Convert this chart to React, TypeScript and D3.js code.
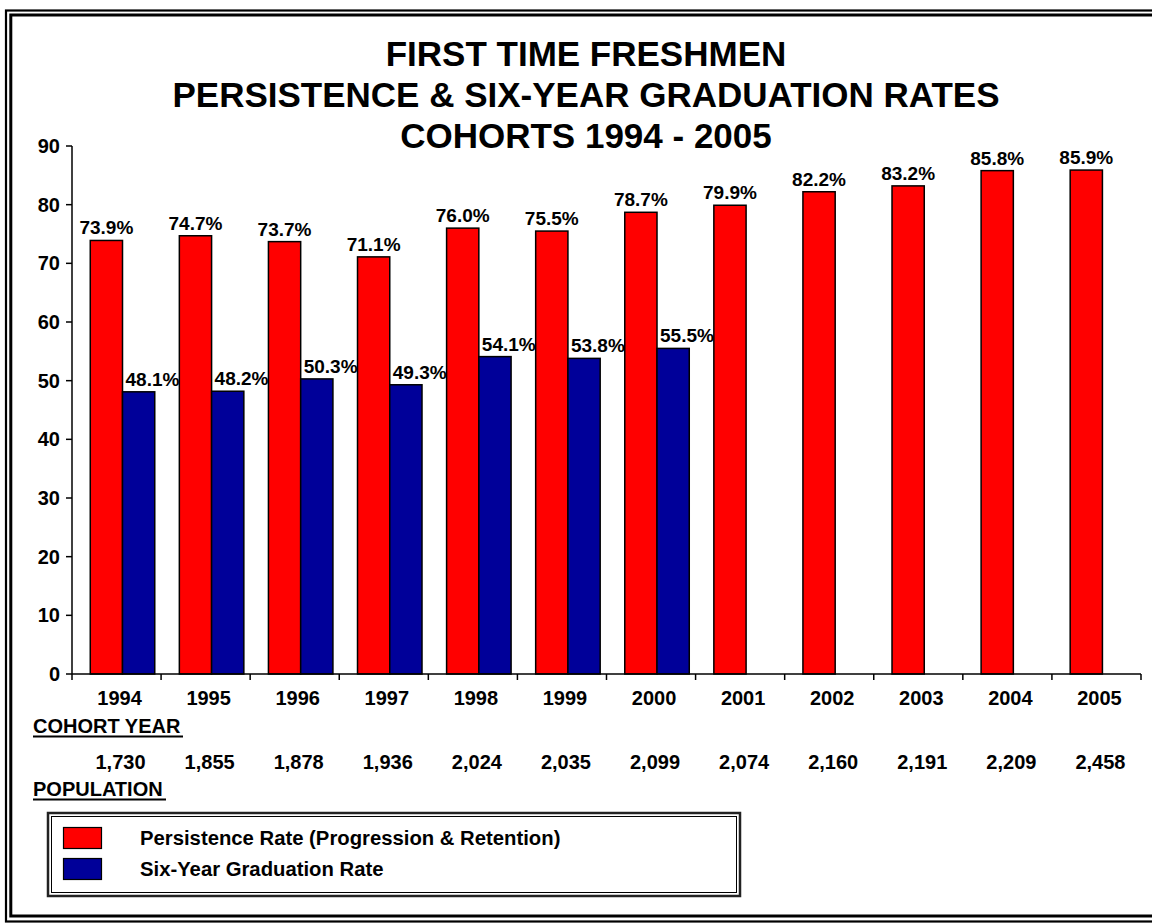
import React from "react";
import * as d3 from "d3";

const years = ["1994","1995","1996","1997","1998","1999","2000","2001","2002","2003","2004","2005"];
const persistence = [73.9, 74.7, 73.7, 71.1, 76.0, 75.5, 78.7, 79.9, 82.2, 83.2, 85.8, 85.9];
const graduation: (number | null)[] = [48.1, 48.2, 50.3, 49.3, 54.1, 53.8, 55.5, null, null, null, null, null];
const population = ["1,730","1,855","1,878","1,936","2,024","2,035","2,099","2,074","2,160","2,191","2,209","2,458"];
const yTicks = [0, 10, 20, 30, 40, 50, 60, 70, 80, 90];
const titleLines = ["FIRST TIME FRESHMEN", "PERSISTENCE & SIX-YEAR GRADUATION RATES", "COHORTS 1994 - 2005"];
const seriesNames = ["Persistence Rate (Progression & Retention)", "Six-Year Graduation Rate"];
const colors = ["#FF0000", "#000099"];

const FONT = "'Liberation Sans', Arial, Helvetica, sans-serif";

export default function App() {
  const W = 1152, H = 923;
  const x = d3.scaleBand<string>().domain(years).range([72, 1141]).paddingInner(0).paddingOuter(0);
  const y = d3.scaleLinear().domain([0, 90]).range([674, 146]);
  const bw = x.bandwidth();
  const barW = bw * 0.362;
  const off = bw * 0.205;
  const y0 = y(0);

  return (
    <svg width={W} height={H} style={{ position: "absolute", left: 0, top: 0, background: "#fff" }} fontFamily={FONT}>
      <rect x={0} y={0} width={W} height={H} fill="#fff" />
      {/* page frame */}
      <rect x={6} y={10.5} width={1160} height={911} fill="none" stroke="#000" strokeWidth={2.2} />
      <rect x={10.8} y={15} width={1150} height={901} fill="none" stroke="#000" strokeWidth={3} />

      {/* title */}
      {titleLines.map((t, i) => (
        <text key={i} x={586} y={66 + i * 41} textAnchor="middle" fontSize={35} fontWeight="bold" fill="#000">{t}</text>
      ))}

      {/* bars */}
      {years.map((yr, i) => {
        const rx = (x(yr) as number) + off;
        const p = persistence[i];
        const g = graduation[i];
        return (
          <g key={yr}>
            <rect x={rx} y={y(p)} width={barW} height={y0 - y(p)} fill={colors[0]} stroke="#000" strokeWidth={1.5} />
            <text x={rx + barW / 2} y={y(p) - 6} textAnchor="middle" fontSize={19} fontWeight="bold">{p.toFixed(1)}%</text>
            {g !== null && (
              <>
                <rect x={rx + barW} y={y(g)} width={barW} height={y0 - y(g)} fill={colors[1]} stroke="#000" strokeWidth={1.5} />
                <text x={rx + barW + 3} y={y(g) - 6} textAnchor="start" fontSize={19} fontWeight="bold">{g.toFixed(1)}%</text>
              </>
            )}
          </g>
        );
      })}

      {/* y axis */}
      <line x1={72} x2={72} y1={y(90)} y2={y0} stroke="#000" strokeWidth={1.5} />
      {yTicks.map(t => (
        <g key={t}>
          <line x1={66} x2={72} y1={y(t)} y2={y(t)} stroke="#000" strokeWidth={1.5} />
          <text x={60} y={y(t) + 7} textAnchor="end" fontSize={20} fontWeight="bold">{t}</text>
        </g>
      ))}

      {/* x axis */}
      <line x1={72} x2={1141} y1={y0} y2={y0} stroke="#000" strokeWidth={1.5} />
      {[...years.map(yr => x(yr) as number), 1141].map((tx, i) => (
        <line key={i} x1={tx} x2={tx} y1={y0} y2={y0 + 6} stroke="#000" strokeWidth={1.5} />
      ))}
      {years.map((yr, i) => (
        <g key={yr}>
          <text x={(x(yr) as number) + bw / 2 + 3} y={705} textAnchor="middle" fontSize={20} fontWeight="bold">{yr}</text>
          <text x={(x(yr) as number) + bw / 2 + 4} y={769} textAnchor="middle" fontSize={20} fontWeight="bold">{population[i]}</text>
        </g>
      ))}
      <text x={33} y={733} fontSize={20} fontWeight="bold">COHORT YEAR</text>
      <line x1={33} x2={183} y1={736.5} y2={736.5} stroke="#000" strokeWidth={2} />
      <text x={33} y={796} fontSize={20} fontWeight="bold">POPULATION</text>
      <line x1={33} x2={166} y1={799.5} y2={799.5} stroke="#000" strokeWidth={2} />

      {/* legend */}
      <rect x={48} y={813} width={692} height={83} fill="#fff" stroke="#222" strokeWidth={2.5} />
      <rect x={51.5} y={816.5} width={685} height={76} fill="none" stroke="#000" strokeWidth={1} />
      {seriesNames.map((s, i) => (
        <g key={s}>
          <rect x={63.5} y={827.5 + i * 31} width={38} height={21} fill={colors[i]} stroke="#000" strokeWidth={1.2} />
          <text x={140} y={845 + i * 31} fontSize={20.3} fontWeight="bold">{s}</text>
        </g>
      ))}
    </svg>
  );
}
